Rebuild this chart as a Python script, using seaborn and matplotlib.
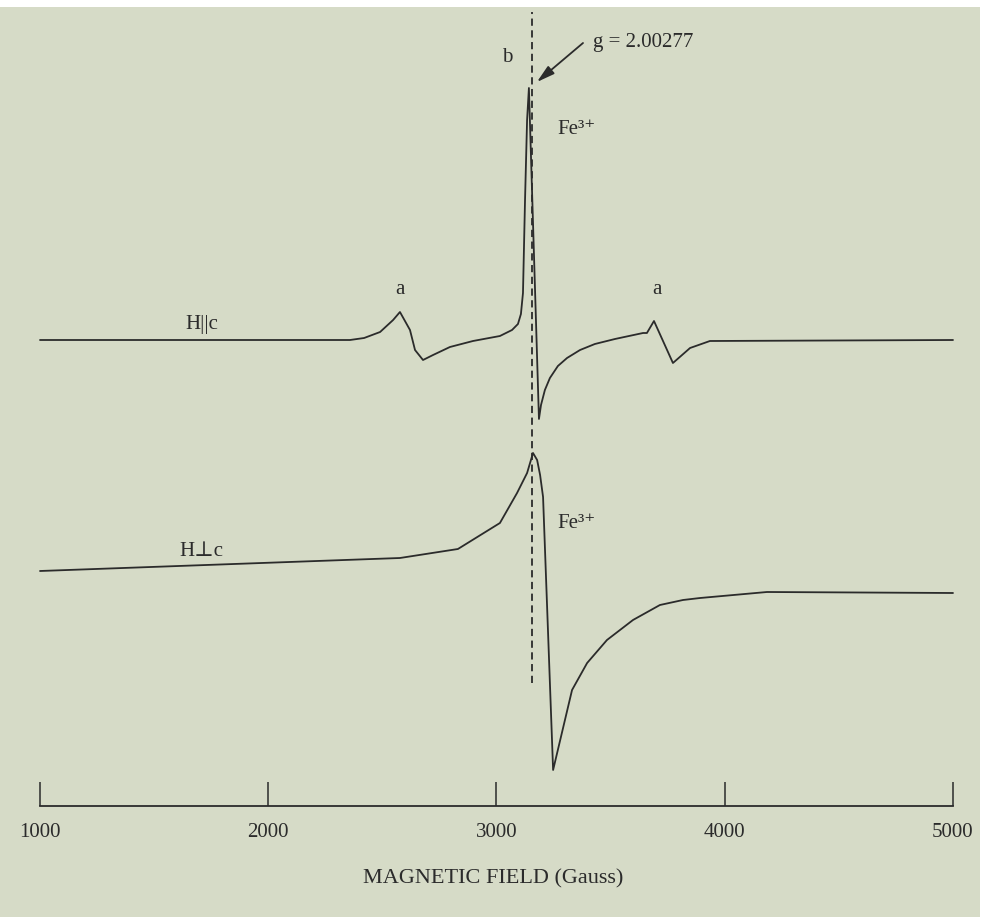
import seaborn as sns
import matplotlib.pyplot as plt
import pandas as pd
from matplotlib.patches import Rectangle

# EPR spectra, field in Gauss, signal in arbitrary units
# H parallel to c (upper trace), amplitudes relative to its baseline
par_field = [1000, 2358, 2420, 2490, 2547, 2577, 2621, 2643, 2678, 2722, 2796, 2897, 3015,
             3068, 3094, 3107, 3116, 3125, 3134, 3142, 3186, 3195, 3212, 3234, 3269,
             3309, 3366, 3431, 3519, 3642, 3659, 3690, 3773, 3848, 3935, 5000]
par_signal = [0, 0, 2, 8, 20, 28, 10, -10, -20, -15, -7, -1, 4,
              10, 16, 26, 47, 140, 220, 252, -79, -65, -50, -38, -26,
              -18, -10, -4, 1, 7, 7, 19, -23, -8, -1, 0]

# H perpendicular to c (lower trace)
perp_field = [1000, 2577, 2831, 3015, 3090, 3134, 3160, 3178, 3191, 3204, 3248, 3331, 3397,
              3484, 3598, 3716, 3817, 3892, 4185, 5000]
perp_signal = [9, 22, 31, 57, 87, 107, 127, 120, 105, 83, -190, -110, -83,
               -60, -40, -25, -20, -18, -12, -13]

par_offset = 577
perp_offset = 337
g_field = 3156
ticks = [1000, 2000, 3000, 4000, 5000]

par = pd.DataFrame({'field': par_field, 'signal': [s + par_offset for s in par_signal]})
perp = pd.DataFrame({'field': perp_field, 'signal': [s + perp_offset for s in perp_signal]})

sns.set_theme(style='white')
plt.rcParams['font.family'] = ['Liberation Serif', 'DejaVu Serif']

bg = '#d6dbc7'
ink = '#2b2b2b'

fig = plt.figure(figsize=(9.86, 9.17), dpi=100, facecolor='white')
fig.patches.append(Rectangle((0, 0), 980 / 986, 1 - 7 / 917, transform=fig.transFigure,
                             facecolor=bg, edgecolor='none', zorder=-1))
ax = fig.add_axes([0, 0, 1, 1])
ax.set_facecolor('none')

sns.lineplot(data=par, x='field', y='signal', sort=False, estimator=None,
             color=ink, linewidth=1.3, ax=ax)
sns.lineplot(data=perp, x='field', y='signal', sort=False, estimator=None,
             color=ink, linewidth=1.3, ax=ax)

ax.plot([g_field, g_field], [234, 905], color=ink, linestyle=(0, (4, 2.5)), linewidth=1.3)

ax.set_xlim(824.75, 5144.6)
ax.set_ylim(0, 917)

# axis as a bar with upward ticks
for s in ['top', 'left', 'right']:
    ax.spines[s].set_visible(False)
ax.spines['bottom'].set_position(('data', 111))
ax.spines['bottom'].set_bounds(1000, 5000)
ax.spines['bottom'].set_color(ink)
ax.spines['bottom'].set_linewidth(1.3)
ax.set_xticks(ticks)
ax.set_xticklabels([str(t) for t in ticks])
ax.tick_params(axis='x', bottom=True, direction='in', length=17, width=1.1, color=ink,
               pad=12, labelsize=15, labelcolor=ink)
ax.set_yticks([])
ax.set_xlabel('MAGNETIC FIELD (Gauss)', fontsize=16, color=ink, labelpad=20)
ax.set_ylabel('')

kw = dict(color=ink, fontsize=15)
ax.text(3046, 860, 'b', ha='center', va='center', **kw)
ax.text(3265, 787, 'Fe\u00b3\u207a', ha='left', va='center', **kw)
ax.text(3265, 394, 'Fe\u00b3\u207a', ha='left', va='center', **kw)
ax.text(2577, 627, 'a', ha='center', va='center', **kw)
ax.text(3703, 627, 'a', ha='center', va='center', **kw)
ax.text(1710, 592, 'H||c', ha='center', va='center', **kw)
ax.text(1705, 366, 'H\u22a5c', ha='center', va='center', **kw)
ax.text(3423, 874, 'g = 2.00277', ha='left', va='center', **kw)
ax.annotate('', xy=(3177, 835), xytext=(3379, 874),
            arrowprops=dict(arrowstyle='-|>,head_length=0.9,head_width=0.25',
                            color=ink, lw=1.3, shrinkA=0, shrinkB=0))

fig.savefig('out.png', dpi=100, facecolor='white')
